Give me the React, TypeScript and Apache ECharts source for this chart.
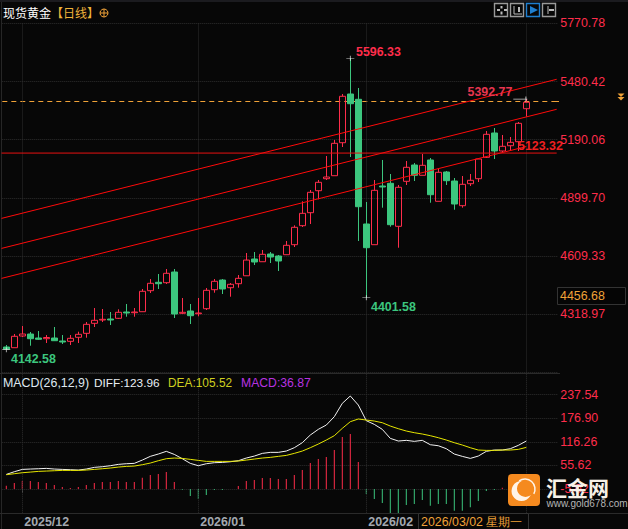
import React, { useEffect, useRef } from "react";
import * as echarts from "echarts";

const SLOTS = 70;
const monthTicks: [number, string][] = [[2, "2025/12"], [24, "2026/01"], [45, "2026/02"]];
const lastTick = 65;

const opens = [4155.8,4152.3,4210.7,4220.6,4200.7,4197.2,4200.7,4185.7,4184.2,4204.2,4224.1,4274,4290.5,4295.5,4299,4330.4,4326.9,4331.9,4436.7,4478.6,4476.6,4530,4323.9,4335.4,4321.9,4346.9,4441.7,4490,4451.7,4471.6,4511.2,4594.9,4581.3,4619.8,4609.8,4616.3,4666.2,4761,4825.8,4935.6,4995.4,5010.4,5175,5418,5391.6,4769.5,4666.2,4959,4972.5,4758,4982.5,5063.8,5012.4,5088.8,4882.7,5028.9,4984,4860.8,4970.5,4995.4,5102.2,5223.5,5133.7,5160,5180,5344.7];
const closes = [4145.8,4209.2,4220.6,4197.2,4194.2,4203.2,4187.2,4180.7,4199.2,4219.1,4269,4289,4294,4290.5,4328.9,4325.4,4330.4,4433.7,4473.6,4471.6,4523.5,4320.4,4328.9,4311.9,4325.4,4438.7,4483.6,4445.2,4468.6,4498.5,4589.6,4579.9,4618.3,4604.8,4584.9,4663.2,4753,4822.8,4927.6,4977.5,5003.9,5172,5406.6,5369.6,4855.8,4651.2,4937.6,4954,4766,4952.6,5052.3,5012.4,5062.3,4915.6,5027.4,4985.5,4869.2,4967.5,4987.5,5093.8,5217,5133.7,5157.1,5177,5271.8,5376.6];
const lows = [4142.58,4152,4205.7,4162.3,4190.7,4175.7,4185.7,4170.7,4165.8,4175.7,4202.2,4255.6,4280.5,4265.5,4295.5,4306.9,4306.9,4331.9,4425.2,4445.2,4470.1,4300.5,4320.4,4270.5,4309,4340.4,4426.7,4420.2,4406.7,4451.7,4511,4564.9,4581,4574.9,4534.9,4616,4654.7,4754.5,4769.5,4892.7,4989,5010,5153.6,5103.7,4684.6,4401.58,4666,4850.8,4756,4651.2,4964,4984,5012,4875.7,4882.5,4964,4840.8,4850.8,4959,4979,5098.7,5093.7,5123.7,5133.7,5133.7,5304.8];
const highs = [4165.8,4220.7,4260.5,4230.6,4235.6,4215.6,4255.6,4215.6,4215.6,4232.1,4280.5,4350.3,4345.4,4330.4,4343.9,4370.3,4350.3,4445.2,4495,4520,4545,4545,4400.3,4370.3,4400.3,4450.2,4495,4495,4475.1,4515,4624.8,4629.8,4639.8,4629.8,4614.8,4684.6,4763,4882.7,4939.1,4989,5108.7,5188.5,5418,5596.33,5448,4879.2,4989,5088.8,5018.9,4964,5083.8,5073.8,5118.7,5098.7,5043.9,5033.9,4999,5009,5018.9,5098.7,5233.4,5248.4,5213.5,5203.5,5278.3,5392.77];

const diff = [32.5,39.4,45.4,46.3,47.1,48,46.3,45.4,44.6,43.7,46.3,50.6,52.3,54.9,58.3,60,60.9,69.4,78.9,84.9,91.8,84,72.9,60.9,54.9,60,62.6,63.4,65.1,67.7,74.6,79.7,86.6,89.2,89.2,92.6,101.2,114.1,133.8,148.4,159.5,181,215.3,234.2,211,170.7,161.2,148.4,125.2,118.4,120.1,117.5,120.1,108.9,106.3,98.6,84.9,78.9,73.7,79.7,91.8,95.2,95.2,98.6,107.2,118.4];
const dea = [31.7,34.3,36.8,38.5,40.3,41.1,42,42.8,42.8,42.8,43.7,45.4,47.1,48.9,51.4,53.1,54,57.4,61.7,67.7,72.9,74.6,73.7,71.2,68.6,66,66,66,66,66.9,69.4,72,74.6,76.3,78.9,81.4,86.6,92.6,101.2,110.6,120.9,132.1,151,168.1,175,172.4,169.8,165.5,156.9,150.1,144.1,139.8,136.4,132.1,126.9,120.9,114.1,108.1,101.2,95.2,94.3,94.3,95.2,95.2,96.9,102];
const hist = [8.6,15.4,20.6,20.6,18,15.4,10.3,5.1,2.6,5.1,10.3,15.4,18,18,20.6,18,18,29.2,36,38.6,43.8,18,-1.7,-18,-25.7,-15.4,-2.6,-2.6,0,7.7,20.6,23.2,28.3,28.3,25.7,25.7,36,48.9,66.9,77.2,82.4,100.4,133.8,141.6,69.5,-12.9,-25.7,-36,-61.8,-61.8,-41.2,-38.6,-28.3,-42.9,-38.6,-38.6,-55.8,-55.8,-47.2,-30.9,-5.1,-2.6,3.4,1.7,2.6,3.4];

const priceMin = 4028.61;
const priceStep = 290.362;
const macdMin = -5.02;
const macdStep = 60.64;

const trendLines: [number, number, number, number][] = [
  [-0.6, 4797.4, 68.8, 5491.4],
  [-0.6, 4647.7, 68.8, 5341.7],
  [-0.6, 4498.1, 65, 5156],
];
const supportLevel = 5123.32;
const lastPriceLevel = 5380.6;

const RED = "#ff2d4b";
const GREEN = "#3cc67e";
const ORANGE = "#f0a238";
const BG = "#070707";
const GRID = "#2e2e2e";
const SANS = "Liberation Sans";
const CJK = "Noto Sans CJK SC";

function label(text: string, x: number, y: number, fill: string, extra: any = {}) {
  return {
    type: "text", x, y, z: 50,
    style: { text, fill, font: `${extra.weight ?? "normal"} ${extra.size ?? 12.4}px "${extra.family ?? SANS}"`, textVerticalAlign: "middle", textAlign: extra.align ?? "left" },
  };
}
function seg(x1: number, y1: number, x2: number, y2: number, stroke: string, lineWidth = 1, z = 50) {
  return { type: "line", z, shape: { x1, y1, x2, y2 }, style: { stroke, lineWidth } };
}
function button(x: number, color: string) {
  return { type: "rect", z: 50, shape: { x: x + 0.5, y: 3.5, width: 13, height: 13 }, style: { fill: "none", stroke: color, lineWidth: 1.4 } };
}

export default function App() {
  const ref = useRef<HTMLDivElement>(null);
  useEffect(() => {
    document.body.style.margin = "0";
    document.body.style.background = BG;
    const chart = echarts.init(ref.current!, undefined, { renderer: "svg" });
    const categories = Array.from({ length: SLOTS }, (_, i) => {
      const m = monthTicks.find((t) => t[0] === i);
      return m ? m[1] : String(i);
    });
    const tickSet = new Set(monthTicks.map((t) => t[0]));
    const vertMarks = [...monthTicks.map((t) => t[0]), lastTick].map((i) => ({ xAxis: i }));
    const vertStyle = { color: GRID, type: "dotted" as const, width: 1 };
    const markLine = { silent: true, symbol: "none", label: { show: false }, lineStyle: vertStyle, data: vertMarks, animation: false };
    const split = { show: true, lineStyle: { color: GRID, type: "dotted" as const, width: 1 } };
    const hiddenValue = { show: false, splitLine: { show: false }, axisLine: { show: false } };
    const candleData = opens.map((o, i) => [o, closes[i], lows[i], highs[i]]);
    const idx = opens.map((_, i) => i);

    const crossPath = "path://M0,3H10V4H0Z M4.5,0H5.5V7H4.5Z";
    const longCross = "path://M0,3H15V4H0Z M13,0H14V7H13Z";

    chart.setOption({
      animation: false,
      backgroundColor: BG,
      grid: [
        { left: 2.3, width: 560, top: 23.3, height: 349.2 },
        { left: 2.3, width: 556, top: 23.3, height: 349.2 },
        { left: 2.3, width: 560, top: 373.3, height: 140 },
        { left: 2.3, width: 556, top: 394.7, height: 94.3 },
      ],
      xAxis: [
        { gridIndex: 0, type: "category", data: categories, show: false },
        { gridIndex: 1, type: "value", min: -0.5, max: 69, show: false },
        {
          gridIndex: 2, type: "category", data: categories,
          axisLine: { show: false },
          axisTick: { show: true, alignWithLabel: true, length: 4, lineStyle: { color: "#555" }, interval: (i: number) => tickSet.has(i) },
          axisLabel: {
            show: true, interval: (i: number) => tickSet.has(i), align: "left", margin: 3, padding: [0, 0, 0, 2],
            color: "#a3a9b0", fontFamily: SANS, fontWeight: "bold", fontSize: 12.4, hideOverlap: false,
          },
          splitLine: { show: false },
        },
        { gridIndex: 3, type: "value", min: -0.5, max: 69, show: false },
      ],
      yAxis: [
        { gridIndex: 0, type: "value", min: priceMin, max: priceMin + 6 * priceStep, ...hiddenValue },
        {
          gridIndex: 1, type: "value", position: "right", min: priceMin, max: priceMin + 6 * priceStep, interval: priceStep,
          axisLine: { show: false }, axisTick: { show: false }, splitLine: split,
          axisLabel: { color: RED, fontFamily: SANS, fontSize: 12.4, margin: 2, showMinLabel: false, formatter: (v: number) => v.toFixed(2) },
        },
        { gridIndex: 2, type: "value", min: -62.5, max: 297.8, ...hiddenValue },
        {
          gridIndex: 3, type: "value", position: "right", min: macdMin, max: macdMin + 4 * macdStep, interval: macdStep,
          axisLine: { show: false }, axisTick: { show: false }, splitLine: split,
          axisLabel: { color: RED, fontFamily: SANS, fontSize: 12.4, margin: 2, formatter: (v: number) => v.toFixed(2) },
        },
      ],
      series: [
        {
          type: "candlestick", xAxisIndex: 0, yAxisIndex: 0, data: candleData, barWidth: 6, silent: true, z: 5,
          itemStyle: { color: "transparent", color0: GREEN, borderColor: RED, borderColor0: GREEN, borderWidth: 1 },
        },
        {
          type: "line", xAxisIndex: 1, yAxisIndex: 1, data: [], symbol: "none", markLine,
        },
        ...trendLines.map((t) => ({
          type: "line", xAxisIndex: 1, yAxisIndex: 1, symbol: "none", silent: true, clip: false, z: 6,
          lineStyle: { color: "#ff0a0a", width: 1 }, data: [[t[0], t[1]], [t[2], t[3]]],
        })),
        {
          type: "line", xAxisIndex: 1, yAxisIndex: 1, symbol: "none", silent: true, clip: false, z: 6,
          lineStyle: { color: "#e81010", width: 1 }, data: [[-0.6, supportLevel], [68.8, supportLevel]],
        },
        {
          type: "line", xAxisIndex: 1, yAxisIndex: 1, symbol: "none", silent: true, clip: false, z: 4,
          lineStyle: { color: ORANGE, width: 1, type: [5, 4] }, data: [[-0.5, lastPriceLevel], [68.2, lastPriceLevel]],
        },
        {
          type: "line", xAxisIndex: 1, yAxisIndex: 1, symbol: "none", silent: true, clip: false, z: 4,
          lineStyle: { color: ORANGE, width: 1 }, data: [[68.2, lastPriceLevel], [77.3, lastPriceLevel]],
        },
        {
          type: "scatter", xAxisIndex: 0, yAxisIndex: 0, silent: true, symbol: crossPath, symbolSize: [8, 5], z: 8,
          itemStyle: { color: "#ffffff" },
          data: [[0, lows[0]], [43, highs[43]], [45, lows[45]]],
        },
        {
          type: "scatter", xAxisIndex: 0, yAxisIndex: 0, silent: true, symbol: longCross, symbolSize: [14, 5], symbolOffset: [-6, 0], z: 8,
          itemStyle: { color: "#ffffff" },
          data: [[65, highs[65]]],
        },
        {
          type: "bar", xAxisIndex: 2, yAxisIndex: 2, barWidth: 1, silent: true,
          data: hist.map((v) => ({ value: v, itemStyle: { color: v >= 0 ? RED : GREEN } })),
          markLine,
        },
        {
          type: "line", xAxisIndex: 3, yAxisIndex: 3, symbol: "none", silent: true, z: 6,
          lineStyle: { color: "#f2f2f2", width: 1 }, data: idx.map((i) => [i, diff[i]]),
        },
        {
          type: "line", xAxisIndex: 3, yAxisIndex: 3, symbol: "none", silent: true, z: 7,
          lineStyle: { color: "#e6e600", width: 1 }, data: idx.map((i) => [i, dea[i]]),
        },
      ],
      graphic: [
        { type: "rect", z: 1, shape: { x: 0, y: 0, width: 628, height: 2 }, style: { fill: "#1b1b1f" } },
        seg(1.5, 2, 1.5, 529, "#262626", 1, 1),
        seg(0, 373.5, 560, 373.5, "#2a2a2a", 1, 1),
        seg(0, 513.5, 628, 513.5, "#2a2a2a", 1, 1),
        label("现货黄金", 3, 12.5, "#ffffff", { size: 12, family: CJK }),
        label("【日线】", 51, 12.5, "#efb33a", { size: 12, family: CJK }),
        { type: "circle", z: 50, shape: { cx: 104, cy: 13, r: 4 }, style: { fill: "none", stroke: ORANGE, lineWidth: 1 } },
        seg(100, 13, 108, 13, ORANGE), seg(104, 9, 104, 17, ORANGE),

        button(494, "#9a9a9a"), button(510, "#9a9a9a"), button(526, "#1f7fd0"), button(542, "#9a9a9a"),
        seg(497, 10, 500, 10, "#bbb", 2), seg(504, 10, 507, 10, "#bbb", 2), seg(501.5, 6, 501.5, 8.5, "#bbb", 2), seg(501.5, 11.5, 501.5, 14.5, "#bbb", 2),
        seg(514, 6, 514, 14, "#bbb"), seg(514, 14, 522, 14, "#bbb"), seg(519, 7, 519, 12, "#bbb", 2),
        { type: "polygon", z: 50, shape: { points: [[530, 6], [538, 10], [530, 14]] }, style: { fill: "#1f7fd0" } },
        seg(548, 6, 548, 14, "#bbb"), seg(549, 10, 554, 10, "#bbb", 2),

        label("5596.33", 356, 52, RED, { weight: "bold" }),
        label("5392.77", 467.5, 92, "#e8354f", { weight: "bold" }),
        label("5123.32", 518, 145.5, "#f02020", { weight: "bold" }),
        label("4401.58", 371, 307, GREEN, { weight: "bold" }),
        label("4142.58", 11, 358.5, GREEN, { weight: "bold" }),

        { type: "polygon", z: 50, shape: { points: [[617.5, 93.5], [624.5, 93.5], [621, 97]] }, style: { fill: ORANGE } },
        { type: "polygon", z: 50, shape: { points: [[617.5, 97], [624.5, 97], [621, 100.5]] }, style: { fill: ORANGE } },

        { type: "rect", z: 40, shape: { x: 557.5, y: 287.5, width: 68, height: 17 }, style: { fill: "#050505", stroke: "#333", lineWidth: 1 } },
        label("4456.68", 560, 296, ORANGE),

        label("MACD(26,12,9)", 3, 383, "#dfe8f0"),
        label("DIFF:123.96", 94, 383, "#e8eef4", { size: 11.8 }),
        label("DEA:105.52", 168, 383, "#cfcf20", { size: 11.9 }),
        label("MACD:36.87", 241, 383, "#b832e0", { size: 12.2 }),

        { type: "rect", z: 40, shape: { x: 418.5, y: 513.5, width: 110, height: 16 }, style: { fill: BG, stroke: "#333", lineWidth: 1 } },
        label("2026/03/02 星期一", 421, 522, ORANGE, { size: 12.4 }),

        { type: "rect", z: 100, shape: { x: 508, y: 474, width: 32, height: 32, r: 4 }, style: { fill: "#f58a1f" } },
        { type: "circle", z: 101, shape: { cx: 521.5, cy: 491, r: 10 }, style: { fill: "#fff4e8" } },
        { type: "circle", z: 102, shape: { cx: 525.5, cy: 488.5, r: 8.5 }, style: { fill: "#f58a1f" } },
        { type: "arc", z: 103, shape: { cx: 525, cy: 489, r: 10, startAngle: -2.2, endAngle: 0.5 }, style: { stroke: "#fff4e8", lineWidth: 1.5, fill: "none" } },
        { type: "text", z: 103, x: 546, y: 486.5, style: { text: "汇金网", fill: "#f6f1e8", font: `bold 21px "${CJK}"`, textVerticalAlign: "middle" } },
        { type: "text", z: 103, x: 546.5, y: 503, style: { text: "www.gold678.com", fill: "#b5b5b5", font: `10px "${SANS}"`, textVerticalAlign: "middle" } },
      ],
    });
    return () => chart.dispose();
  }, []);
  return <div ref={ref} style={{ position: "fixed", left: 0, top: 0, width: 628, height: 529 }} />;
}
